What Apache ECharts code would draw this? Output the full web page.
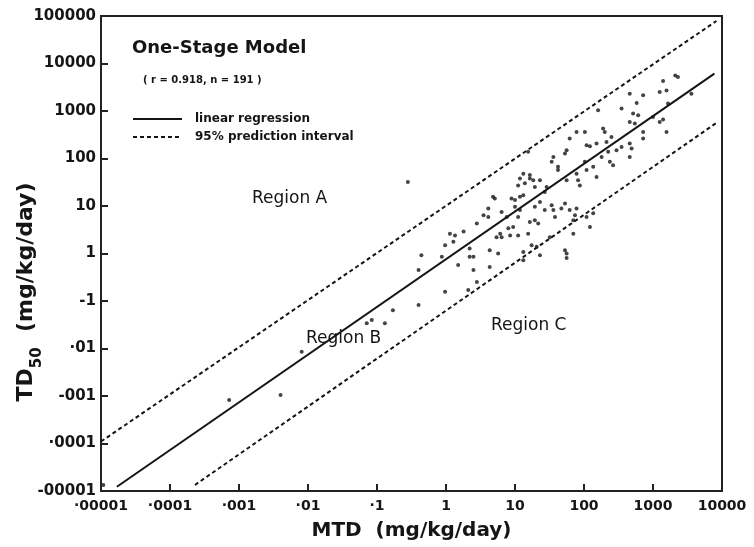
<!DOCTYPE html>
<html><head><meta charset="utf-8">
<script src="https://cdn.jsdelivr.net/npm/echarts@6/dist/echarts.min.js"></script>
<style>html,body{margin:0;padding:0;background:#fff}#c{width:754px;height:547px}</style>
</head><body><div id="c"></div>
<script>
// Tick labels (as printed on the scan)
const xTickLabels = ['·00001','·0001','·001','·01','·1','1','10','100','1000','10000'];
const yTickLabels = ['-00001','·0001','-001','·01','-1','1','10','100','1000','10000','100000'];

// Scatter data: MTD vs TD50 (mg/kg/day)
const mtd = [2100,2300,1400,1570,1250,720,460,350,580,160,1650,3600,515,610,1000,1250,1400,1570,720,545,
  460,189,200,250,78,103,62,122,152,212,224,350,460,490,460,720,56,53,36,42,
  34,42,103,109,136,152,237,264,82,78,15.5,13.2,16.4,18.4,11.1,13.9,19.4,28.7,27,56,
  4.8,8.9,11.8,10,3.5,4.1,6.4,7.6,11.1,19.4,23,36,38,53,78,74,19.4,21.7,16.4,9.4,
  8.0,6.1,6.4,8.5,2.8,1.8,1.35,11.1,15.5,32,70,5.7,2.2,20.6,23,53,56,0.97,2.5,13.2,
  4.3,13.2,4.1,5.1,10,11.8,13.2,11.8,23,0.28,0.44,0.40,0.17,0.40,0.97,0.87,1.14,1.28,1.5,2.2,
  2.5,4.3,5.4,2.1,2.8,0.071,0.084,0.13,0.0081,0.00072,0.0040,1.08e-5,16.4,56,
  109,296,180,87,34,47,62,70,109,122,136,27,17.4];
const td50 = [5600,5200,4300,2700,2500,2150,2300,1130,1480,1040,1440,2300,885,815,750,590,660,363,363,545,
  590,428,363,285,363,363,263,181,207,223,138,175,207,162,108,263,149,127,108,57,
  85,67,85,57,67,41,85,72,35,48,138,48,38,35,27,30,25,25,19.8,35,
  15.6,14.4,15.6,9.6,6.4,5.9,7.5,5.9,5.9,9.6,12.2,8.2,5.9,11.3,8.9,6.4,5.0,4.3,4.6,3.6,
  3.4,2.6,2.2,2.4,4.3,2.9,2.4,2.4,2.6,2.2,2.6,1.0,1.28,1.38,0.92,1.17,1.0,1.5,0.85,1.08,
  0.52,0.72,8.9,14.4,13.3,8.2,16.9,38,35,32,0.92,0.45,0.064,0.082,0.156,0.85,2.6,1.76,0.57,0.85,
  0.45,1.17,2.2,0.17,0.25,0.034,0.040,0.034,0.0085,0.00082,0.00105,1.34e-5,45,0.80,
  190,149,108,27,10.4,8.9,8.2,5.0,5.9,3.6,7.0,8.2,1.5];

// Regression line and 95% prediction interval end points
const regMTD = [1.7e-5, 7760];   const regTD50 = [1.23e-5, 6120];
const upMTD  = [1e-5, 8300];     const upTD50  = [1.1e-4, 78500];
const loMTD  = [2.3e-4, 8700];   const loTD50  = [1.34e-5, 590];

const FONT = '"DejaVu Sans", sans-serif';
const INK = '#151515';
const pairs = (a, b) => a.map((v, i) => [v, b[i]]);
const expIdx = v => Math.round(Math.log10(v)) + 5;

const chart = echarts.init(document.getElementById('c'), null, {renderer: 'canvas'});
chart.setOption({
  backgroundColor: '#fff',
  animation: false,
  grid: {left: 101, right: 32, top: 16, bottom: 56, show: true, borderColor: '#222', borderWidth: 2},
  xAxis: {
    type: 'log', logBase: 10, min: 1e-5, max: 1e4, interval: 1, splitNumber: 9,
    name: 'MTD  (mg/kg/day)', nameLocation: 'middle', nameGap: 30,
    nameTextStyle: {fontFamily: FONT, fontSize: 20, fontWeight: 'bold', color: INK},
    axisLine: {show: true, lineStyle: {color: '#222', width: 2}},
    axisTick: {show: true, inside: true, length: 7, lineStyle: {color: '#222', width: 2}},
    axisLabel: {show: true, margin: 8, fontFamily: FONT, fontSize: 14, fontWeight: 'bold', color: INK,
      showMinLabel: true, showMaxLabel: true,
      formatter: v => xTickLabels[expIdx(v)] || ''},
    splitLine: {show: false}, minorTick: {show: false}
  },
  yAxis: {
    type: 'log', logBase: 10, min: 1e-5, max: 1e5, interval: 1, splitNumber: 10,
    axisLine: {show: true, lineStyle: {color: '#222', width: 2}},
    axisTick: {show: true, inside: true, length: 7, lineStyle: {color: '#222', width: 2}},
    axisLabel: {show: true, margin: 5, fontFamily: FONT, fontSize: 15, fontWeight: 'bold', color: INK,
      showMinLabel: true, showMaxLabel: true,
      formatter: v => yTickLabels[expIdx(v)] || ''},
    splitLine: {show: false}, minorTick: {show: false}
  },
  series: [
    {type: 'line', data: pairs(upMTD, upTD50), showSymbol: false, silent: true,
     lineStyle: {color: INK, width: 2, type: [4, 3]}, z: 2},
    {type: 'line', data: pairs(loMTD, loTD50), showSymbol: false, silent: true,
     lineStyle: {color: INK, width: 2, type: [4, 3]}, z: 2},
    {type: 'line', data: pairs(regMTD, regTD50), showSymbol: false, silent: true,
     lineStyle: {color: INK, width: 2, type: 'solid'}, z: 2},
    {type: 'scatter', data: pairs(mtd, td50), symbol: 'circle', symbolSize: 4,
     itemStyle: {color: INK}, z: 3}
  ],
  graphic: [
    {type: 'text', x: 28, y: 292, rotation: Math.PI / 2, style: {
      text: '{t|TD}{s|50}{t|  (mg/kg/day)}', align: 'center', verticalAlign: 'middle',
      rich: {
        t: {fontFamily: FONT, fontSize: 22, fontWeight: 'bold', fill: INK, verticalAlign: 'top', lineHeight: 26},
        s: {fontFamily: FONT, fontSize: 15, fontWeight: 'bold', fill: INK, verticalAlign: 'top', lineHeight: 15, padding: [15, 0, 0, 0]}
      }}},
    {type: 'text', x: 132, y: 48, style: {text: 'One-Stage Model', font: 'bold 18px ' + FONT, fill: INK, align: 'left', verticalAlign: 'middle'}},
    {type: 'text', x: 143, y: 80, style: {text: '( r = 0.918, n = 191 )', font: 'bold 10px ' + FONT, fill: INK, align: 'left', verticalAlign: 'middle'}},
    {type: 'line', shape: {x1: 133, y1: 119, x2: 182, y2: 119}, style: {stroke: INK, lineWidth: 2}},
    {type: 'line', shape: {x1: 133, y1: 137, x2: 182, y2: 137}, style: {stroke: INK, lineWidth: 2, lineDash: [4, 3]}},
    {type: 'text', x: 195, y: 119, style: {text: 'linear regression', font: 'bold 12px ' + FONT, fill: INK, align: 'left', verticalAlign: 'middle'}},
    {type: 'text', x: 195, y: 137, style: {text: '95% prediction interval', font: 'bold 12px ' + FONT, fill: INK, align: 'left', verticalAlign: 'middle'}},
    {type: 'text', x: 252, y: 199, style: {text: 'Region A', font: '17px ' + FONT, fill: INK, align: 'left', verticalAlign: 'middle'}},
    {type: 'text', x: 306, y: 339, style: {text: 'Region B', font: '17px ' + FONT, fill: INK, align: 'left', verticalAlign: 'middle'}},
    {type: 'text', x: 491, y: 326, style: {text: 'Region C', font: '17px ' + FONT, fill: INK, align: 'left', verticalAlign: 'middle'}}
  ]
});
</script>
</body></html>
